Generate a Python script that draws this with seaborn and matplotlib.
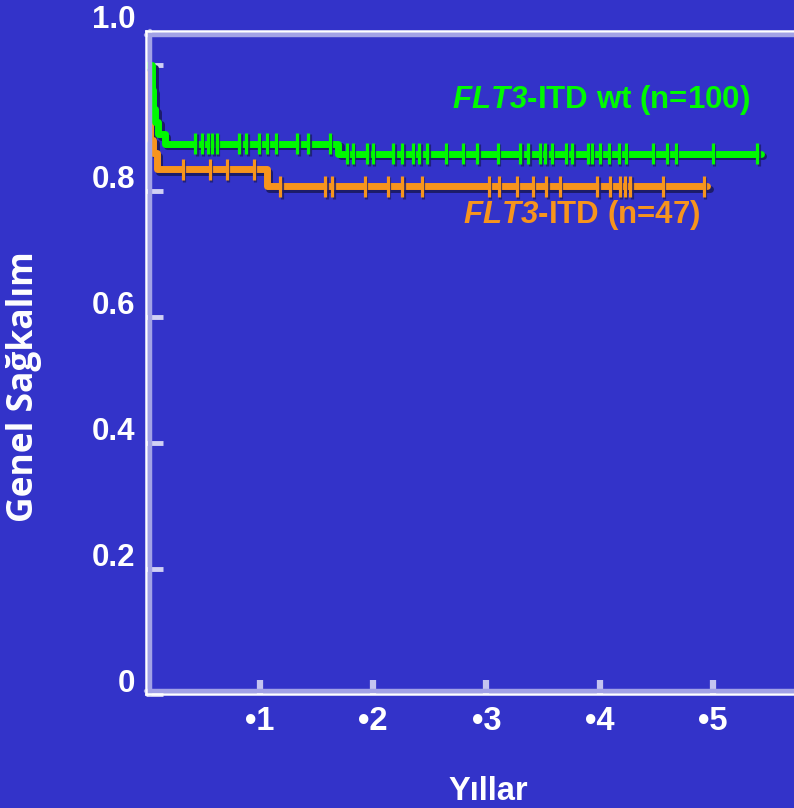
import matplotlib
matplotlib.use('Agg')
import matplotlib.pyplot as plt
import matplotlib.patheffects as pe
import matplotlib.transforms as mtransforms
import seaborn as sns
import numpy as np
import pandas as pd

# ============================
# Data
# ============================

# FLT3-ITD wt (n=100): step drops
wt_times = [0.0, 0.05, 0.06, 0.08, 0.10, 0.16, 1.69]
wt_surv = [1.0, 0.96, 0.93, 0.91, 0.89, 0.875, 0.859]
wt_end = 5.42
wt_censor = [0.43, 0.49, 0.54, 0.58, 0.62, 0.82, 0.88, 0.99, 1.06, 1.14,
             1.33, 1.43, 1.62, 1.77, 1.82, 1.95, 2.00, 2.18, 2.26, 2.35,
             2.41, 2.48, 2.64, 2.79, 2.92, 3.10, 3.30, 3.37, 3.47, 3.52,
             3.58, 3.70, 3.76, 3.90, 3.93, 4.00, 4.08, 4.17, 4.23, 4.47,
             4.59, 4.67, 5.00, 5.39]

# FLT3-ITD (n=47)
itd_times = [0.0, 0.03, 0.06, 0.09, 1.06]
itd_surv = [1.0, 0.88, 0.86, 0.834, 0.807]
itd_end = 4.95
itd_censor = [0.32, 0.56, 0.71, 0.95, 1.18, 1.58, 1.64, 1.93, 2.13, 2.26,
              2.43, 3.02, 3.11, 3.27, 3.41, 3.53, 3.65, 3.98, 4.09, 4.18,
              4.22, 4.27, 4.56, 4.92]

y_ticks = [0, 0.2, 0.4, 0.6, 0.8, 1.0]
y_ticklabels = ['0', '0.2', '0.4', '0.6', '0.8', '']
x_ticks = [1, 2, 3, 4, 5]
x_ticklabels = ['\u2022' + str(v) for v in x_ticks]

# ============================
# Style
# ============================
bg = '#3333c9'
green = '#00fa00'
orange = '#f7941d'
lavender = '#a2a2e6'
shadow = '#1c1c6a'

sns.set_theme(style='white', rc={'axes.facecolor': bg, 'figure.facecolor': bg})
plt.rcParams['font.family'] = ['Liberation Sans', 'DejaVu Sans']
plt.rcParams['mathtext.fontset'] = 'custom'
plt.rcParams['mathtext.bfit'] = 'Liberation Sans:italic:bold'
plt.rcParams['mathtext.rm'] = 'Liberation Sans:bold'

fig = plt.figure(figsize=(7.94, 8.08), dpi=100)
ax = fig.add_axes([0.1844, 0.1405, 0.8484, 0.8208])

line_fx = [pe.SimpleLineShadow(offset=(2.0, -2.0), shadow_color=shadow, alpha=1.0),
           pe.Normal()]
mark_fx = [pe.SimpleLineShadow(offset=(1.0, -1.0), shadow_color=shadow, alpha=0.8),
           pe.Normal()]


def step_value(times, surv, t):
    idx = np.searchsorted(times, t, side='right') - 1
    return np.asarray(surv)[idx]


for times, surv, end, cens, col in [
        (itd_times, itd_surv, itd_end, itd_censor, orange),
        (wt_times, wt_surv, wt_end, wt_censor, green)]:
    df = pd.DataFrame({'t': times + [end], 's': surv + [surv[-1]]})
    sns.lineplot(data=df, x='t', y='s', drawstyle='steps-post', color=col,
                 linewidth=5.0, ax=ax, path_effects=line_fx, estimator=None)
    ax.plot(cens, step_value(times, surv, np.array(cens)), ls='none',
            marker='|', ms=15.5, mew=2.3, color=col, path_effects=mark_fx)

ax.set_xlim(0, 5.945)
ax.set_ylim(0, 1.0535)

# Frame: white outer line with lavender inner line
for side in ['top', 'left', 'bottom']:
    ax.spines[side].set_color('white')
    ax.spines[side].set_linewidth(1.8)
ax.spines['right'].set_visible(False)
off = 3.5 / 100
tr = ax.transAxes
ax.plot([0, 0], [0, 1], color=lavender, lw=3.2, transform=tr + mtransforms.ScaledTranslation(off, 0, fig.dpi_scale_trans), clip_on=False)
ax.plot([0, 1.2], [0, 0], color=lavender, lw=3.2, transform=tr + mtransforms.ScaledTranslation(0, off, fig.dpi_scale_trans), clip_on=False)
ax.plot([0, 1.2], [1, 1], color=lavender, lw=3.2, transform=tr + mtransforms.ScaledTranslation(0, -off, fig.dpi_scale_trans), clip_on=False)

# Ticks
ax.set_yticks(y_ticks)
ax.set_yticklabels(y_ticklabels)
ax.set_xticks(x_ticks)
ax.set_xticklabels(x_ticklabels)
ax.tick_params(axis='y', direction='in', length=12, width=3.5, color='#d0d0f4',
               pad=8, labelsize=22.5, labelcolor='white', left=True)
ax.tick_params(axis='x', direction='in', length=10, width=4.5, color='#c4c4f0',
               pad=8, labelsize=23.5, labelcolor='white', bottom=True)
for lab in ax.get_yticklabels():
    lab.set_fontweight('bold')
    lab.set_transform(lab.get_transform() + mtransforms.ScaledTranslation(0, 0.14, fig.dpi_scale_trans))
for lab in ax.get_xticklabels():
    lab.set_fontweight('bold')

ax.annotate('1.0', xy=(0, 1), xycoords='axes fraction', xytext=(-11, 11),
            textcoords='offset pixels', ha='right', va='center',
            fontsize=22.5, fontweight='bold', color='white')

# Axis labels
ax.set_xlabel('Y\u0131llar', fontsize=23.5, fontweight='bold', color='white')
ax.xaxis.label.set_va('center')
ax.xaxis.set_label_coords(0.507, -0.147)
ax.set_ylabel('Genel Sa\u011fkal\u0131m', fontsize=25.5, fontweight='bold',
              color='white', family=['Open Sans', 'DejaVu Sans'])
ax.yaxis.label.set_va('center')
ax.yaxis.set_label_coords(-0.1817, 0.4644)

# Curve labels
ax.text(2.70, 0.944, r'$\mathbfit{FLT3}$-ITD wt (n=100)', color=green,
        fontsize=22.5, fontweight='bold', va='center', ha='left')
ax.text(2.79, 0.762, r'$\mathbfit{FLT3}$-ITD (n=47)', color=orange,
        fontsize=22.5, fontweight='bold', va='center', ha='left')

plt.savefig('out.png', dpi=100, facecolor=bg)
